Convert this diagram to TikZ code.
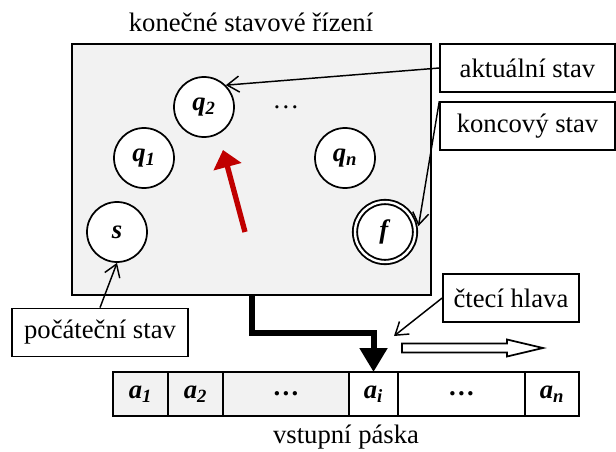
\documentclass[tikz,border=0pt]{standalone}
\usepackage{fontspec}
\setmainfont{Liberation Serif}
\definecolor{panelgray}{HTML}{F2F2F2}
\definecolor{headred}{HTML}{C00000}
\usetikzlibrary{arrows.meta, positioning}
\newcommand{\sym}[2]{\textbf{\textit{#1}\textsubscript{\textit{#2}}}}

\begin{document}
\begin{tikzpicture}[x=0.75pt, y=0.75pt, font=\fontsize{20}{24}\selectfont,
	state/.style={draw, circle, line width=1.3pt, fill=white, minimum size=45pt, inner sep=0pt},
	labelbox/.style={draw, line width=1.3pt, fill=white, minimum height=36pt, inner sep=2pt},
	cell/.style={draw, line width=1.3pt, minimum height=33pt, inner sep=0pt, outer sep=0pt},
	pointer/.style={-{Straight Barb[length=9pt, width=12pt]}, line width=1.1pt}]
	\useasboundingbox (0,0) rectangle (616,451);
	\node[draw, line width=1.7pt, fill=panelgray, minimum width=269pt, minimum height=188pt, inner sep=0pt] at (251.5,281.5) (fsm) {};
	\node[anchor=base] at (251,419) (title) {konečné stavové řízení};
	\node[state] at (204,344) (q2) {\sym{q}{2}};
	\node[state] at (144,293) (q1) {\sym{q}{1}};
	\node[state] at (345,293) (qn) {\sym{q}{n}};
	\node[state] at (117,219) (s) {\textbf{\textit{s}}};
	\node[state, double, line width=1.4pt, double distance=1.8pt, outer sep=3pt] at (385,219) (f) {\textbf{\textit{f}}};
	\node[anchor=base] at (286,343) (dots) {\dots};
	\draw[headred, line width=4pt, -{Triangle[length=13pt, width=21pt]}] (245,219) -- (223,301);
	\node[labelbox, minimum width=131pt] at (527.5,383) (akt) {aktuální stav};
	\node[labelbox, minimum width=131pt] at (527.5,325) (konc) {koncový stav};
	\node[labelbox, minimum width=102pt] at (511,153) (cteci) {čtecí hlava};
	\node[labelbox, minimum width=132pt] at (100,118.5) (poc) {počáteční stav};
	\node[cell, fill=panelgray, minimum width=41.25pt] at (140.5,57) (a1) {\sym{a}{1}};
	\node[cell, fill=panelgray, minimum width=41.25pt, right=0pt of a1] (a2) {\sym{a}{2}};
	\node[cell, fill=panelgray, minimum width=94.5pt, right=0pt of a2] (d1) {\textbf{\dots}};
	\node[cell, fill=white, minimum width=36.75pt, right=0pt of d1] (ai) {\sym{a}{i}};
	\node[cell, fill=white, minimum width=95.25pt, right=0pt of ai] (d2) {\textbf{\dots}};
	\node[cell, fill=white, minimum width=40.5pt, right=0pt of d2] (an) {\sym{a}{n}};
	\node[anchor=base] at (346,8) (tape) {vstupní páska};
	\coordinate (hd) at (394,115);
	\draw[pointer] (akt.west) -- (q2.north east);
	\draw[pointer] (konc.north west) -- (f.10);
	\draw[pointer] (poc.north) -- (s.south);
	\draw[pointer] (cteci.west) -- (hd);
	\draw[line width=4.5pt, -{Triangle[length=18pt, width=20pt]}] (fsm.south) -- ++(0,-37) -| (ai.north);
	\draw[line width=1.3pt, fill=white] (402,98.5) -- (507,98.5) -- (507,94.5) -- (543,103) -- (507,111.5) -- (507,107.5) -- (402,107.5) -- cycle;
\end{tikzpicture}
\end{document}
